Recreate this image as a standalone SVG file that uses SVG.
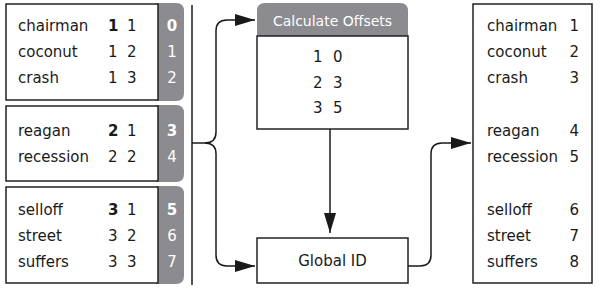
<svg xmlns="http://www.w3.org/2000/svg" width="600" height="298" viewBox="0 0 600 298">
  <defs>
    <marker id="arrow" markerUnits="userSpaceOnUse" markerWidth="22" markerHeight="14" refX="21" refY="7" orient="auto">
      <path d="M1,1 L21,7 L1,13 Z" fill="#1a1a1a"/>
    </marker>
    <style>
      text { font-family: "DejaVu Sans", Verdana, sans-serif; font-size: 15px; fill: #1a1a1a; }
      .box { fill: #ffffff; stroke: #222; stroke-width: 1.5; }
      .tab { fill: #8b8b90; }
      .tabnum { fill: #ffffff; text-anchor: middle; }
      .b { font-weight: bold; }
      .mid { text-anchor: middle; }
      .end { text-anchor: end; }
      .conn { fill: none; stroke: #1a1a1a; stroke-width: 1.5; }
      .hdr { fill: #ffffff; text-anchor: middle; font-size: 14px; }
    </style>
  </defs>

  <!-- partition 1 -->
  <g id="part1">
    <path class="tab" d="M156,3 H176 Q184,3 184,11 V93 Q184,101 176,101 H156 Z"/>
    <rect class="box" x="6" y="4" width="152" height="96"/>
    <text x="18" y="31">chairman</text>
    <text x="18" y="57">coconut</text>
    <text x="18" y="83">crash</text>
    <text x="108" y="31" class="b">1</text><text x="127" y="31">1</text>
    <text x="108" y="57">1</text><text x="127" y="57">2</text>
    <text x="108" y="83">1</text><text x="127" y="83">3</text>
    <text x="172" y="31" class="tabnum b">0</text>
    <text x="172" y="57" class="tabnum">1</text>
    <text x="172" y="83" class="tabnum">2</text>
  </g>

  <!-- partition 2 -->
  <g id="part2">
    <path class="tab" d="M156,105 H176 Q184,105 184,113 V174 Q184,182 176,182 H156 Z"/>
    <rect class="box" x="6" y="106" width="152" height="75"/>
    <text x="18" y="136">reagan</text>
    <text x="18" y="162">recession</text>
    <text x="108" y="136" class="b">2</text><text x="127" y="136">1</text>
    <text x="108" y="162">2</text><text x="127" y="162">2</text>
    <text x="172" y="136" class="tabnum b">3</text>
    <text x="172" y="162" class="tabnum">4</text>
  </g>

  <!-- partition 3 -->
  <g id="part3">
    <path class="tab" d="M156,186 H176 Q184,186 184,194 V276 Q184,284 176,284 H156 Z"/>
    <rect class="box" x="6" y="187" width="152" height="96"/>
    <text x="18" y="215">selloff</text>
    <text x="18" y="241">street</text>
    <text x="18" y="267">suffers</text>
    <text x="108" y="215" class="b">3</text><text x="127" y="215">1</text>
    <text x="108" y="241">3</text><text x="127" y="241">2</text>
    <text x="108" y="267">3</text><text x="127" y="267">3</text>
    <text x="172" y="215" class="tabnum b">5</text>
    <text x="172" y="241" class="tabnum">6</text>
    <text x="172" y="267" class="tabnum">7</text>
  </g>

  <!-- calculate offsets -->
  <g id="offsets">
    <path class="tab" d="M257,36 V11 Q257,3 265,3 H400 Q408,3 408,11 V36 Z"/>
    <text x="332.5" y="26" class="hdr">Calculate Offsets</text>
    <rect class="box" x="257" y="36" width="151" height="93"/>
    <text x="313" y="62">1</text><text x="333" y="62">0</text>
    <text x="313" y="88">2</text><text x="333" y="88">3</text>
    <text x="313" y="113">3</text><text x="333" y="113">5</text>
  </g>

  <!-- global id -->
  <g id="globalid">
    <rect class="box" x="257" y="238" width="151" height="45"/>
    <text x="332.5" y="266" class="mid">Global ID</text>
  </g>

  <!-- output -->
  <g id="output">
    <rect class="box" x="473" y="4" width="119" height="279"/>
    <text x="487" y="31">chairman</text><text x="579" y="31" class="end">1</text>
    <text x="487" y="57">coconut</text><text x="579" y="57" class="end">2</text>
    <text x="487" y="83">crash</text><text x="579" y="83" class="end">3</text>
    <text x="487" y="136">reagan</text><text x="579" y="136" class="end">4</text>
    <text x="487" y="162">recession</text><text x="579" y="162" class="end">5</text>
    <text x="487" y="215">selloff</text><text x="579" y="215" class="end">6</text>
    <text x="487" y="241">street</text><text x="579" y="241" class="end">7</text>
    <text x="487" y="267">suffers</text><text x="579" y="267" class="end">8</text>
  </g>

  <!-- connectors -->
  <g id="connectors">
    <line class="conn" x1="192" y1="5" x2="192" y2="285"/>
    <path class="conn" d="M192,143 H205 Q216,143 216,132 V31 Q216,20 227,20 H255" marker-end="url(#arrow)"/>
    <path class="conn" d="M205,143 Q216,143 216,154 V255 Q216,266 227,266 H255" marker-end="url(#arrow)"/>
    <path class="conn" d="M330,129 V233" marker-end="url(#arrow)"/>
    <path class="conn" d="M408,266 H420 Q431,266 431,255 V154 Q431,143 442,143 H471" marker-end="url(#arrow)"/>
  </g>
</svg>
